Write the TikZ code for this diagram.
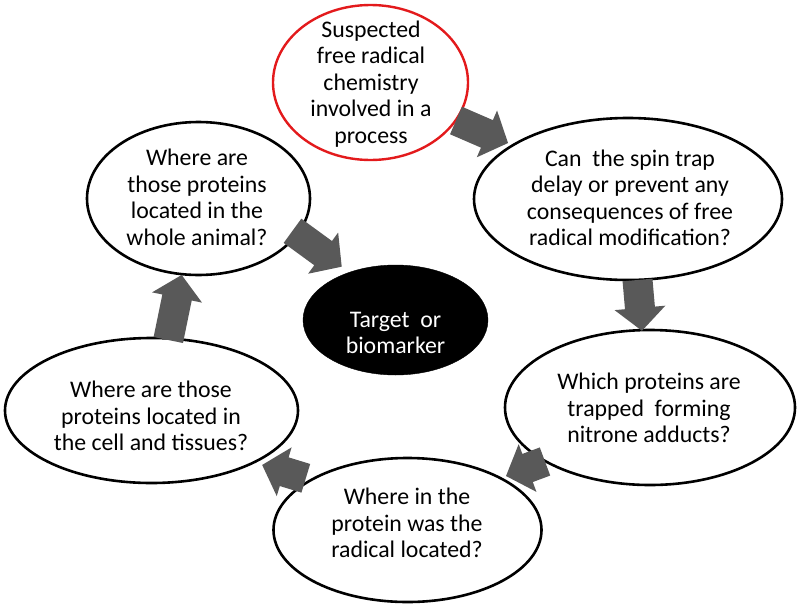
\documentclass[tikz,border=0pt]{standalone}
\usepackage{fontspec}
\setmainfont{Carlito}
\definecolor{arrowfill}{HTML}{595959}
\definecolor{redline}{HTML}{E31A1C}
\tikzset{
  ell/.style={ellipse, draw=black, line width=2.6pt, fill=white, inner sep=0pt},
  redell/.style={ellipse, draw=redline, line width=2.4pt, fill=white, inner sep=0pt},
  blackell/.style={ellipse, draw=black, fill=black, inner sep=0pt},
  txt/.style={align=center, font=\fontsize{23.8}{26.5}\selectfont, inner sep=0pt},
  pics/barrow/.style={code={
    \fill[arrowfill] (0,-15) -- (#1-23,-15) -- (#1-23,-25.5) -- (#1,0)
      -- (#1-23,25.5) -- (#1-23,15) -- (0,15) -- cycle;}}
}
\usetikzlibrary{shapes.geometric}
\begin{document}
\begin{tikzpicture}[x=1pt,y=-1pt]
\useasboundingbox (0,0) rectangle (800,608);
% ellipses
\node[redell, minimum width=195pt, minimum height=155pt] (e1) at (370.5,82.5) {};
\node[ell, minimum width=308pt, minimum height=162pt] (e2) at (628,199) {};
\node[ell, minimum width=290pt, minimum height=155pt] (e3) at (650,407.5) {};
\node[ell, minimum width=268pt, minimum height=144pt] (e4) at (407.5,530) {};
\node[ell, minimum width=293pt, minimum height=145pt] (e5) at (151.5,410.5) {};
\node[ell, minimum width=223pt, minimum height=153pt] (e6) at (198.5,198.5) {};
\node[blackell, minimum width=185pt, minimum height=110pt] (e7) at (395.5,320) {};
% texts
\node[txt] (t1) at (371,84) {Suspected\\free radical\\chemistry\\involved in a\\process};
\node[txt] (t2) at (630,198) {Can\ \ the spin trap\\delay or prevent any\\consequences of free\\radical modification?};
\node[txt] (t3) at (649,408) {Which proteins are\\trapped\ \ forming\\nitrone adducts?};
\node[txt] (t4) at (407,523) {Where in the\\protein was the\\radical located?};
\node[txt] (t5) at (151,416) {Where are those\\proteins located in\\the cell and tissues?};
\node[txt] (t6) at (197,197.5) {Where are\\those proteins\\located in the\\whole animal?};
\node[txt, text=white] (t7) at (395.5,333) {Target\ \ or\\biomarker};
% block arrows
\pic[rotate=-23.4] (a1) at (456,120.5) {barrow=56.7};
\pic[rotate=-85] (a2) at (637.5,280) {barrow=51};
\pic[rotate=200.4] (a3) at (545,461.5) {barrow=41.6};
\pic[rotate=163] (a4) at (305.8,478.3) {barrow=45.6};
\pic[rotate=78.4] (a5) at (168.3,340) {barrow=66.4};
\pic[rotate=-36.1] (a6) at (292.5,230.8) {barrow=60.9};
\end{tikzpicture}
\end{document}
